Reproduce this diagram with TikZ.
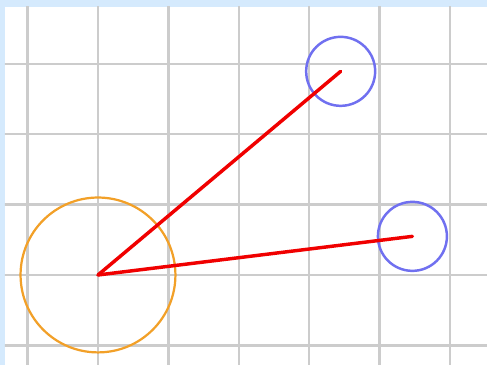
\documentclass[tikz,border=0pt]{standalone}
\usetikzlibrary{positioning}
\definecolor{bgblue}{RGB}{213,234,253}
\definecolor{gridgray}{RGB}{204,204,204}
\definecolor{armred}{RGB}{240,0,0}
\definecolor{baseorange}{RGB}{242,160,40}
\definecolor{tipblue}{RGB}{112,112,240}
\begin{document}
\begin{tikzpicture}[line cap=round]
    % stili
    \tikzstyle{gridline} = [draw=gridgray, line width=1pt]
    \tikzstyle{arm} = [draw=armred, line width=1.4pt]
    \tikzstyle{base} = [draw=baseorange, line width=0.9pt]
    \tikzstyle{tip} = [draw=tipblue, line width=1pt]

    % sfondo e margini
    \useasboundingbox (-1.392,-1.278) rectangle (5.526,3.906);
    \fill[bgblue] (-1.392,-1.278) rectangle (5.526,3.906);
    \fill[white] (-1.321,-1.278) rectangle (5.526,3.807);

    % griglia
    \begin{scope}
        \clip (-1.321,-1.278) rectangle (5.526,3.807);
        \draw[gridline, line cap=butt] (-2,-2) grid (6,4);
    \end{scope}

    % punti
    \coordinate (o) at (0,0);
    \coordinate (p1) at (40:4.5);
    \coordinate (p2) at (7:4.5);

    % cerchi
    \draw[base] (o) circle (1.1);
    \draw[tip] (p1) circle (0.49);
    \draw[tip] (p2) circle (0.49);

    % bracci
    \draw[arm] (o) -- (p1);
    \draw[arm] (o) -- (p2);
\end{tikzpicture}
\end{document}
